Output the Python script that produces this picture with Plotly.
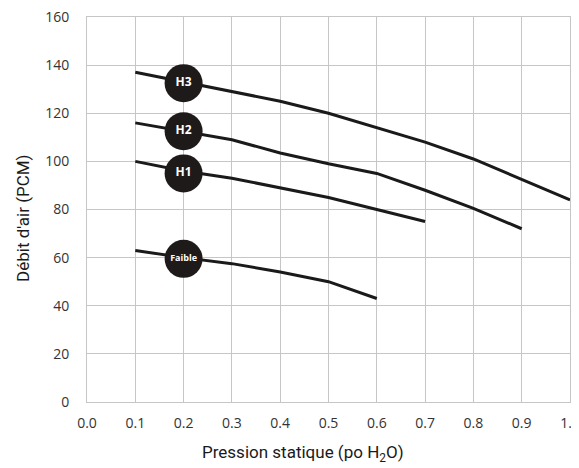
import plotly.graph_objects as go

pression = [0.1, 0.2, 0.3, 0.4, 0.5, 0.6, 0.7, 0.8, 0.9, 1.0]
h3 = [137, 133, 129, 125, 120, 114, 108, 101, 92.5, 84]
h2 = [116, 112.5, 109, 103.5, 99, 95, 88, 80.5, 72]
h1 = [100, 96, 93, 89, 85, 80, 75]
faible = [63, 60, 57.5, 54, 50, 43]

label_names = ["H3", "H2", "H1", "Faible"]
label_x = [0.2, 0.2, 0.2, 0.2]
label_y = [132.5, 112.5, 95, 59.5]
label_sizes = [12, 12, 12, 9]

x_title = "Pression statique (po H<sub>2</sub>O)"
y_title = "Débit d'air (PCM)"

fig = go.Figure()
for ys in [h3, h2, h1, faible]:
    fig.add_trace(go.Scatter(x=pression[:len(ys)], y=ys, mode="lines",
                             line=dict(color="#1a1a1a", width=3),
                             showlegend=False, hoverinfo="skip"))

fig.add_trace(go.Scatter(
    x=label_x, y=label_y, mode="markers+text", text=label_names,
    textposition="middle center",
    marker=dict(size=38, color="#1e1a1a"),
    textfont=dict(color="white", size=label_sizes, family="Open Sans", weight="bold"),
    showlegend=False, hoverinfo="skip", cliponaxis=False))

title_font = dict(family="Roboto", size=17, color="#1a1a1a")
axis_common = dict(showgrid=True, gridcolor="#c6c6c6", gridwidth=1,
                   showline=True, linecolor="#c6c6c6", linewidth=1, mirror=True,
                   zeroline=False, automargin=False,
                   ticks="outside", tickcolor="rgba(0,0,0,0)",
                   ticklabeloverflow="allow",
                   tickfont=dict(family="Open Sans", size=14, color="#333333"))

fig.update_layout(
    width=579, height=468,
    margin=dict(l=79, r=17, t=9, b=74),
    paper_bgcolor="white", plot_bgcolor="white",
    xaxis=dict(range=[0, 1.0], dtick=0.1, tickformat=".1f", ticklen=8, **axis_common),
    yaxis=dict(range=[0, 160], dtick=20, ticklen=14, **axis_common),
    annotations=[
        dict(text=x_title, xref="paper", yref="paper", x=0.447, y=-0.135,
             xanchor="center", yanchor="middle", showarrow=False, font=title_font),
        dict(text=y_title, xref="paper", yref="paper", x=-0.1325, y=0.478,
             xanchor="center", yanchor="middle", showarrow=False, textangle=-90,
             font=title_font),
    ],
)

fig.write_html("out.html")
